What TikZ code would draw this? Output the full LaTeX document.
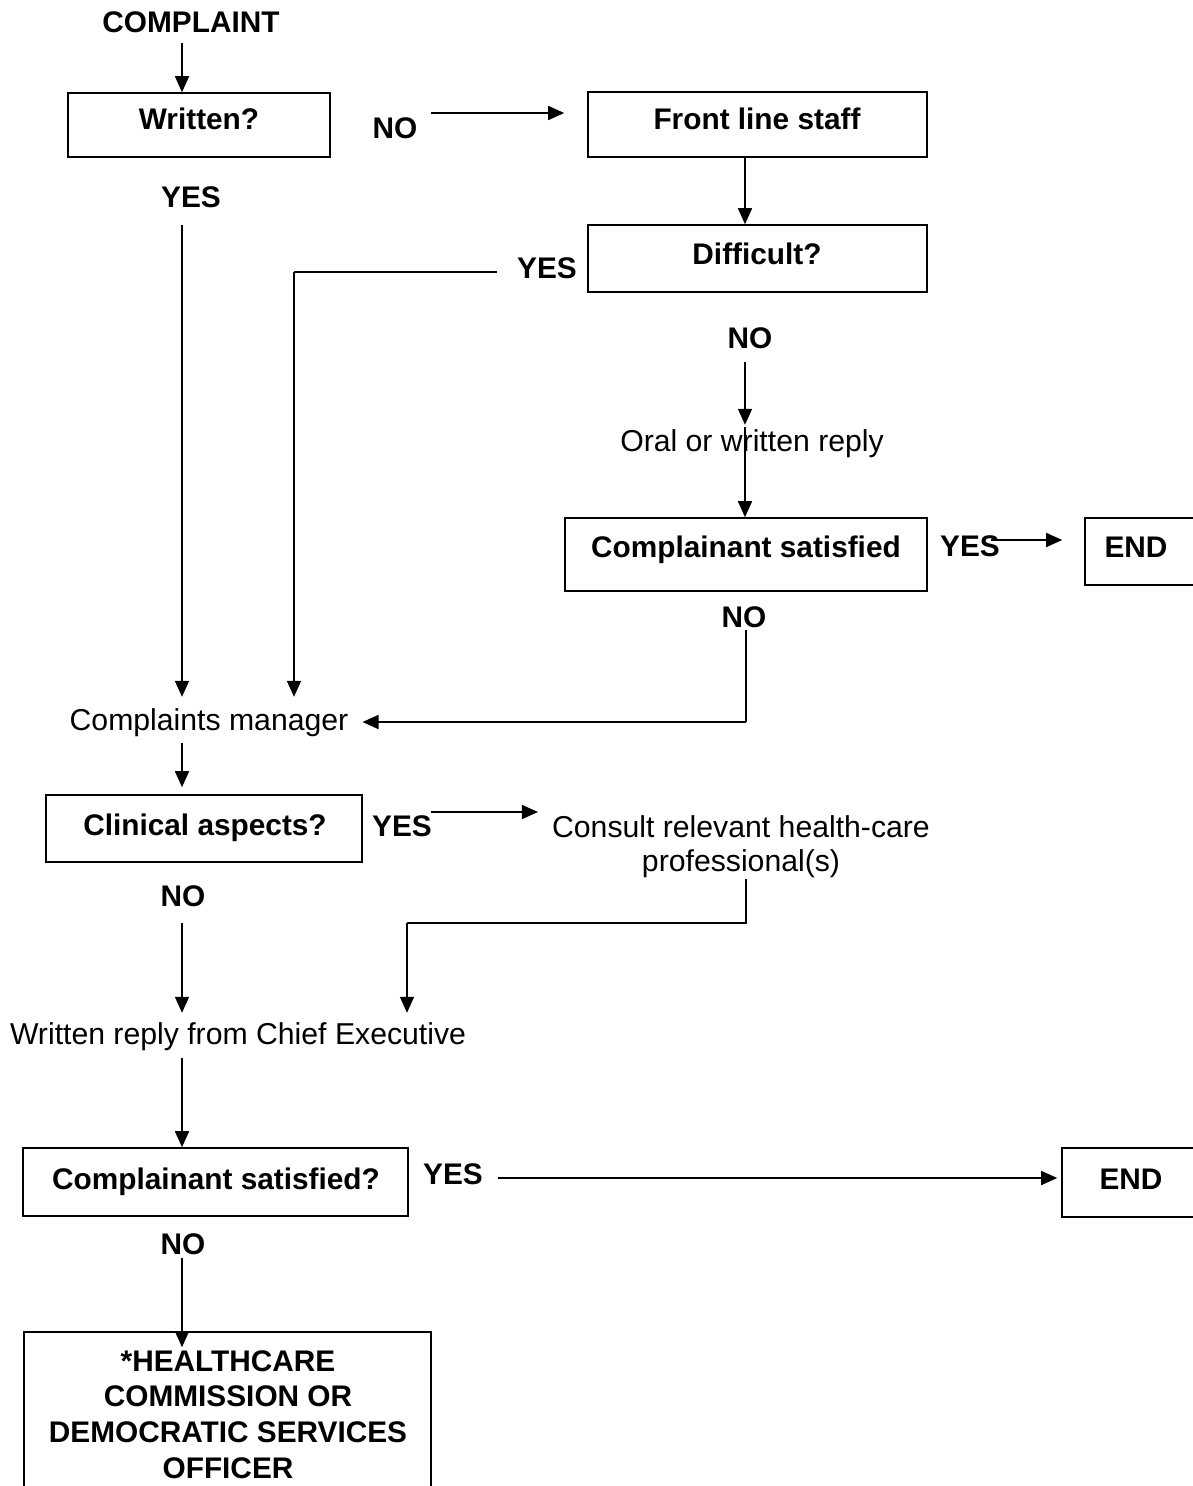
\documentclass[tikz,border=0pt]{standalone}
\usepackage{fontspec}
\setmainfont{Liberation Sans}
\usetikzlibrary{arrows.meta}
\begin{document}
\begin{tikzpicture}[x=1pt,y=-1pt,
  every node/.style={font=\fontsize{30}{36}\selectfont},
  lbl/.style={inner sep=0pt, text height=21pt, text depth=0pt, font=\fontsize{29.8}{36}\selectfont\bfseries},
  plain/.style={inner sep=0pt, text height=21pt, text depth=0pt, font=\fontsize{30.2}{36}\selectfont},
  box/.style={draw, line width=1.6pt, inner sep=0pt},
  ln/.style={line width=1.6pt},
  arr/.style={line width=1.6pt, -{Triangle[length=16pt,width=14pt]}}]
\path[use as bounding box] (0,0) rectangle (1193,1486);
\clip (0,0) rectangle (1193,1486);
\fill[white] (0,0) rectangle (1193,1486);

% column and row coordinates
\coordinate (cA) at (182,0);
\coordinate (cB) at (294,0);
\coordinate (cC) at (746,0);
\coordinate (cD) at (407,0);
\coordinate (cE) at (745,0);
\coordinate (r113) at (0,113);
\coordinate (r272) at (0,272);
\coordinate (r540) at (0,540);
\coordinate (r722) at (0,722);
\coordinate (r812) at (0,812);
\coordinate (r923) at (0,923);
\coordinate (r1178) at (0,1178);

% boxes
\node[box, minimum width=262pt, minimum height=64pt] (written) at (199,125) {};
\node[box, minimum width=339pt, minimum height=65pt] (front) at (757.5,124.5) {};
\node[box, minimum width=339pt, minimum height=67pt] (difficult) at (757.5,258.5) {};
\node[box, minimum width=362pt, minimum height=73pt] (sat1) at (746,554.5) {};
\node[box, minimum width=215pt, minimum height=67pt] (end1) at (1192.5,551.5) {};
\node[box, minimum width=316pt, minimum height=67pt] (clin) at (204,828.5) {};
\node[box, minimum width=385pt, minimum height=68pt] (sat2) at (215.5,1182) {};
\node[box, minimum width=238pt, minimum height=69pt] (end2) at (1181,1182.5) {};
\node[box, minimum width=407pt, minimum height=268pt] (hc) at (227.5,1466) {};

% texts
\node[lbl] (complaint) at (191,22) {COMPLAINT};
\node[lbl] (writtenT) at (199,119) {Written?};
\node[lbl] (no1) at (395,128) {NO};
\node[lbl] (frontT) at (757,119) {Front line staff};
\node[lbl] (yes1) at (191,197) {YES};
\node[lbl] (difficultT) at (757,254) {Difficult?};
\node[lbl] (yes2) at (547,268) {YES};
\node[lbl] (no2) at (750,338) {NO};
\node[plain] (oral) at (752,441) {Oral or written reply};
\node[lbl] (sat1T) at (746,547) {Complainant satisfied};
\node[lbl] (yes3) at (970,546) {YES};
\node[lbl] (end1T) at (1136,547) {END};
\node[lbl] (no3) at (744,617) {NO};
\node[plain] (mgr) at (209,720) {Complaints manager};
\node[lbl] (clinT) at (205,825) {Clinical aspects?};
\node[lbl] (yes4) at (402,826) {YES};
\node[align=center, anchor=north, inner sep=0pt, font=\fontsize{30.2}{34}\selectfont] (consult) at (741,815) {Consult relevant health-care\\professional(s)};
\node[lbl] (no4) at (183,896) {NO};
\node[plain] (chief) at (238,1034) {Written reply from Chief Executive};
\node[lbl] (sat2T) at (216,1179) {Complainant satisfied?};
\node[lbl] (yes5) at (453,1174) {YES};
\node[lbl] (end2T) at (1131,1179) {END};
\node[lbl] (no5) at (183,1244) {NO};
\node[align=center, anchor=north, inner sep=0pt, font=\fontsize{29.8}{35.7}\selectfont\bfseries] (hcT) at (228,1350) {*HEALTHCARE\\COMMISSION OR\\DEMOCRATIC SERVICES\\OFFICER};

% connectors
\draw[arr] ([yshift=-10.5pt]complaint.south -| cA) -- (written.north -| cA);
\draw[arr] ([xshift=13pt]no1.east |- r113) -- ([xshift=-23pt]front.west |- r113);
\draw[arr] (front.south -| cE) -- (difficult.north -| cE);
\draw[ln] ([xshift=-20pt]yes2.west |- r272) -- (cB |- r272) coordinate (b1);
\draw[arr] (b1) -- ([yshift=12.5pt]mgr.north -| cB);
\draw[arr] ([yshift=-17.5pt]yes1.south -| cA) -- ([yshift=12.5pt]mgr.north -| cA);
\draw[arr] ([yshift=-13.5pt]no2.south -| cE) -- ([yshift=5.5pt]oral.north -| cE);
\draw[arr] ([yshift=3.5pt]oral.north -| cE) -- (sat1.north -| cE);
\draw[arr] ([xshift=-9pt]yes3.east |- r540) -- ([xshift=-22pt]end1.west |- r540);
\draw[ln] ([yshift=-2.5pt]no3.south -| cC) -- (cC |- r722) coordinate (b2);
\draw[arr] (b2) -- ([xshift=14pt]mgr.east |- r722);
\draw[arr] ([yshift=-12.5pt]mgr.south -| cA) -- ([yshift=7pt]clin.north -| cA);
\draw[arr] ([xshift=-1pt]yes4.east |- r812) -- ([xshift=-14pt]consult.west |- r812);
\draw[ln] ([yshift=-1pt]consult.south -| cC) -- (cC |- r923) -- (cD |- r923) coordinate (b3);
\draw[arr] (b3) -- ([yshift=10.5pt]chief.north -| cD);
\draw[arr] ([yshift=-16.5pt]no4.south -| cA) -- ([yshift=10.5pt]chief.north -| cA);
\draw[arr] ([yshift=-13.5pt]chief.south -| cA) -- (sat2.north -| cA);
\draw[arr] ([xshift=15pt]yes5.east |- r1178) -- ([xshift=-4pt]end2.west |- r1178);
\draw[arr] ([yshift=-3.5pt]no5.south -| cA) -- ([yshift=-16pt]hc.north -| cA);
\end{tikzpicture}
\end{document}
